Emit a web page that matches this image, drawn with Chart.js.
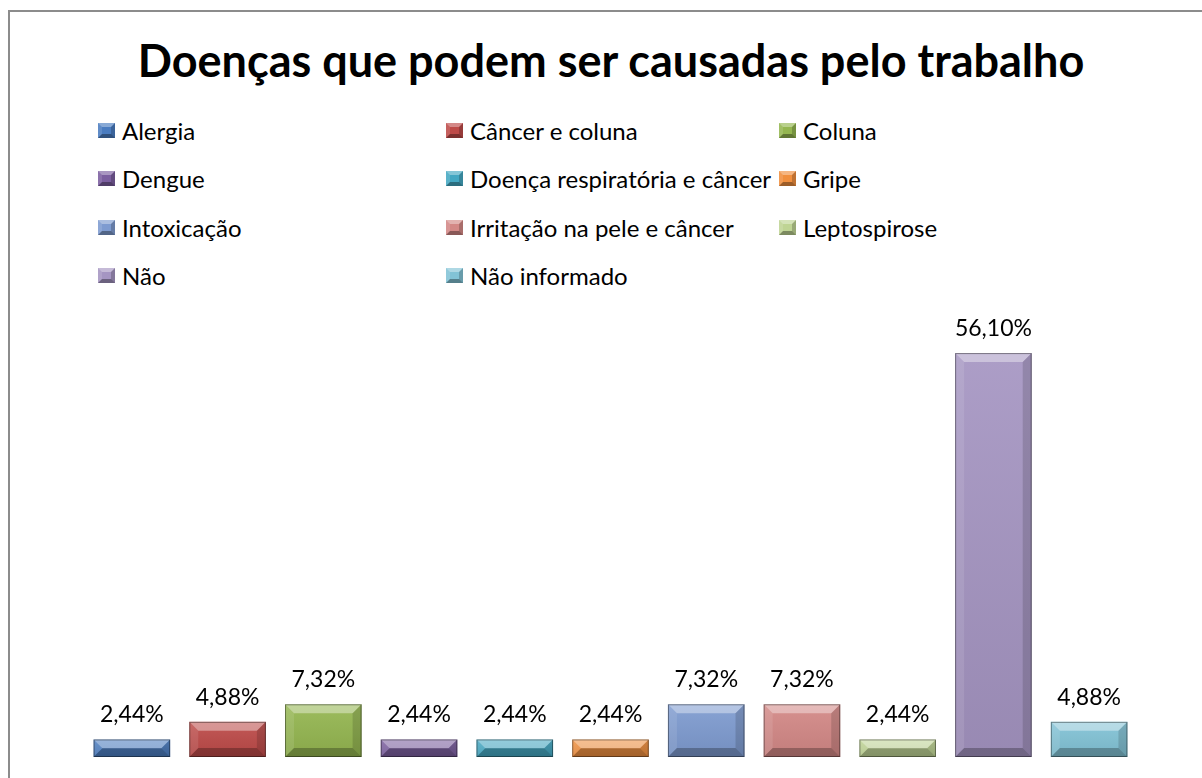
<!DOCTYPE html>
<html>
<head>
<meta charset="utf-8">
<script src="https://cdn.jsdelivr.net/npm/chart.js@4.4.1/dist/chart.umd.min.js"></script>
<style>
  html, body { margin: 0; padding: 0; background: #fff; }
  body { width: 1202px; height: 778px; position: relative; overflow: hidden; font-family: Lato, 'Open Sans', sans-serif; }
  #frame { position: absolute; left: 8px; top: 10px; width: 1300px; height: 900px; border: 2px solid #8c8c8c; box-sizing: border-box; }
  #title { position: absolute; left: 0; width: 1222px; top: 32px; text-align: center; font-weight: 700; font-size: 45px; color: #000; line-height: 56px; }
  #legend { position: absolute; left: 98px; top: 106px; display: grid; grid-template-columns: 348px 333px 260px; row-gap: 0; }
  .leg-item { display: flex; align-items: center; height: 48.5px; font-size: 24px; color: #000; white-space: nowrap; }
  .leg-box { width: 9px; height: 7px; border-style: solid; border-width: 4px; margin-right: 7px; flex-shrink: 0; }
  #chartWrap { position: absolute; left: 0; top: 0; width: 1202px; height: 778px; }
</style>
</head>
<body>
<div id="frame"></div>
<div id="title">Doenças que podem ser causadas pelo trabalho</div>
<div id="legend"></div>
<div id="chartWrap"><canvas id="barChart" width="1202" height="778"></canvas></div>

<script>
// ── Data
const categories = [
  'Alergia', 'Câncer e coluna', 'Coluna', 'Dengue', 'Doença respiratória e câncer',
  'Gripe', 'Intoxicação', 'Irritação na pele e câncer', 'Leptospirose', 'Não', 'Não informado'
];
const percentages = [2.44, 4.88, 7.32, 2.44, 2.44, 2.44, 7.32, 7.32, 2.44, 56.10, 4.88];
const barColors = [
  '#4a7cc0', '#bd4a48', '#94b650', '#7b5e9f', '#43a7c2',
  '#f08f3e', '#7e9bd0', '#d38886', '#bfd494', '#a595c2', '#82c3d6'
];

// ── Bevel look: lighter top/left faces, darker bottom/right faces
const bevelPlugin = {
  id: 'bevel',
  afterDatasetsDraw(chart) {
    const ctx = chart.ctx;
    chart.getDatasetMeta(0).data.forEach(bar => {
      const l = bar.x - bar.width / 2, r = bar.x + bar.width / 2;
      const t = bar.y, b = bar.base;
      const s = Math.min(9, (b - t) / 2);
      const face = (pts, color) => {
        ctx.beginPath();
        ctx.moveTo(pts[0][0], pts[0][1]);
        pts.slice(1).forEach(p => ctx.lineTo(p[0], p[1]));
        ctx.closePath();
        ctx.fillStyle = color;
        ctx.fill();
      };
      ctx.save();
      // soft vertical shading on the body
      const g = ctx.createLinearGradient(0, t, 0, b);
      g.addColorStop(0, 'rgba(255,255,255,0.08)');
      g.addColorStop(1, 'rgba(0,0,0,0.08)');
      ctx.fillStyle = g;
      ctx.fillRect(l, t, bar.width, b - t);
      face([[l, t], [r, t], [r - s, t + s], [l + s, t + s]], 'rgba(255,255,255,0.38)');
      face([[l, t], [l + s, t + s], [l + s, b - s], [l, b]], 'rgba(255,255,255,0.10)');
      face([[r, t], [r, b], [r - s, b - s], [r - s, t + s]], 'rgba(0,0,0,0.14)');
      face([[l, b], [l + s, b - s], [r - s, b - s], [r, b]], 'rgba(0,0,0,0.26)');
      ctx.strokeStyle = 'rgba(0,0,0,0.4)';
      ctx.lineWidth = 1;
      ctx.strokeRect(l + 0.5, t + 0.5, bar.width - 1, b - t - 1);
      ctx.restore();
    });
  }
};

// ── Value labels above bars ("2,44%")
const valueLabels = {
  id: 'valueLabels',
  afterDatasetsDraw(chart) {
    const ctx = chart.ctx;
    ctx.save();
    ctx.font = '23px Lato, "Open Sans", sans-serif';
    ctx.fillStyle = '#000';
    ctx.textAlign = 'center';
    ctx.textBaseline = 'alphabetic';
    chart.getDatasetMeta(0).data.forEach((bar, i) => {
      const txt = percentages[i].toFixed(2).replace('.', ',') + '%';
      ctx.fillText(txt, bar.x, bar.y - 17);
    });
    ctx.restore();
  }
};

new Chart(document.getElementById('barChart'), {
  type: 'bar',
  data: {
    labels: categories,
    datasets: [{
      data: percentages,
      backgroundColor: barColors,
      borderWidth: 0,
      barPercentage: 0.8,
      categoryPercentage: 1.0,
    }],
  },
  options: {
    responsive: false,
    animation: false,
    layout: { padding: { left: 84, right: 65, top: 325, bottom: 21 } },
    plugins: { legend: { display: false }, tooltip: { enabled: false }, title: { display: false } },
    scales: {
      x: { display: false },
      y: { display: false, min: 0, max: 60 },
    },
  },
  plugins: [bevelPlugin, valueLabels],
});

// ── small helper for legend marker faces
function shade(hex, amt) {
  const n = parseInt(hex.slice(1), 16);
  const mix = (c) => Math.round(amt >= 0 ? c + (255 - c) * amt : c * (1 + amt));
  const r = mix(n >> 16), g = mix((n >> 8) & 255), b = mix(n & 255);
  return `rgb(${r},${g},${b})`;
}

// ── HTML legend in three columns
const legend = document.getElementById('legend');
categories.forEach((label, i) => {
  const c = barColors[i];
  const item = document.createElement('div');
  item.className = 'leg-item';
  item.innerHTML = `<div class="leg-box" style="background:${c};border-color:${shade(c, 0.35)} ${shade(c, -0.2)} ${shade(c, -0.35)} ${shade(c, 0.12)};"></div><span>${label}</span>`;
  legend.appendChild(item);
});
</script>
</body>
</html>
